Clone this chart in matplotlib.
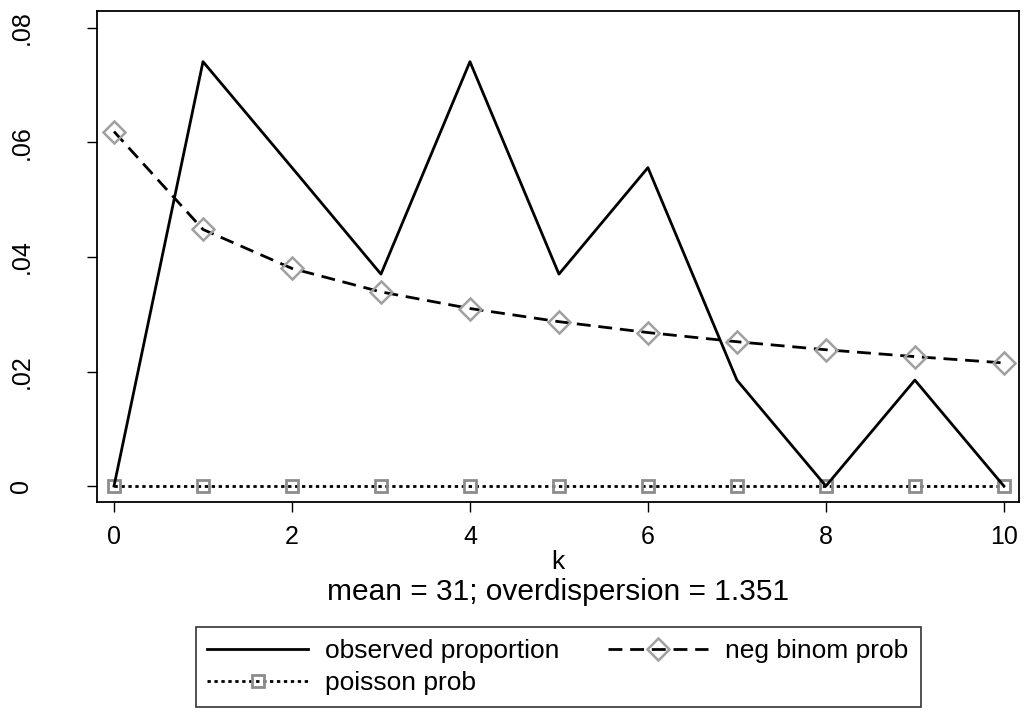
import numpy as np
import matplotlib
matplotlib.use("Agg")
import matplotlib.pyplot as plt
from matplotlib.lines import Line2D

plt.rcParams['font.family'] = ['Liberation Sans', 'DejaVu Sans']

k = [0, 1, 2, 3, 4, 5, 6, 7, 8, 9, 10]
observed = [0.0, 0.0741, 0.0556, 0.0370, 0.0741, 0.0370, 0.0556, 0.0185, 0.0, 0.0185, 0.0]
negbin = [0.0619, 0.0448, 0.0380, 0.0339, 0.0310, 0.0287, 0.0268, 0.0252, 0.0238, 0.0226, 0.0215]
poisson = [0.0, 0.0, 0.0, 0.0, 0.0, 0.0, 0.0, 0.0, 0.0, 0.0, 0.0]
yticks = [0, 0.02, 0.04, 0.06, 0.08]
ylabels = ['0', '.02', '.04', '.06', '.08']
xticks = [0, 2, 4, 6, 8, 10]
note = 'mean = 31; overdispersion = 1.351'

dgrey = '#a0a0a0'
sgrey = '#8c8c8c'
dash = (5.0, 2.8)
dots = (1.2, 1.3)

fig = plt.figure(figsize=(10.24, 7.13), dpi=100)
ax = fig.add_axes([0.0944, 0.2963, 0.9007, 0.6887])

ax.plot(k, negbin, color='black', lw=2, dashes=dash, marker='D', ms=11,
        mfc='none', mec=dgrey, mew=1.8, zorder=3)
ax.plot(k, poisson, color='black', lw=2, dashes=dots, marker='s', ms=8.5,
        mfc='none', mec=sgrey, mew=2, zorder=3)
ax.plot(k, observed, color='black', lw=2, zorder=4)

ax.set_xlim(-0.195, 10.17)
ax.set_ylim(-0.00274, 0.0830)
ax.set_xticks(xticks)
ax.set_yticks(yticks)
ax.set_yticklabels(ylabels, rotation=90, va='center')
ax.tick_params(length=7.5, width=1, labelsize=18)
ax.tick_params(axis='x', pad=9)
ax.tick_params(axis='y', pad=38)
for s in ax.spines.values():
    s.set_linewidth(1.3)

fig.text(0.545, 1 - 562 / 713, 'k', ha='center', va='center', fontsize=19)
fig.text(0.545, 1 - 592 / 713, note, ha='center', va='center', fontsize=21.5)

handles = [
    Line2D([], [], color='black', lw=2),
    Line2D([], [], color='black', lw=2, dashes=dots, marker='s', ms=8.5,
           mfc='none', mec=sgrey, mew=2),
    Line2D([], [], color='black', lw=2, dashes=dash, marker='D', ms=11,
           mfc='none', mec=dgrey, mew=1.8),
]
labels = ['observed proportion', 'poisson prob', 'neg binom prob']
leg = fig.legend(handles, labels, loc='upper center', bbox_to_anchor=(0.545, 1 - 627 / 713),
                 ncol=2, fontsize=19, frameon=True, fancybox=False,
                 edgecolor='black', handlelength=3.8, handletextpad=0.65,
                 columnspacing=1.85, labelspacing=0.3, borderpad=0.45,
                 borderaxespad=0)
leg.get_frame().set_linewidth(1.2)

fig.savefig('out.png', dpi=100)
